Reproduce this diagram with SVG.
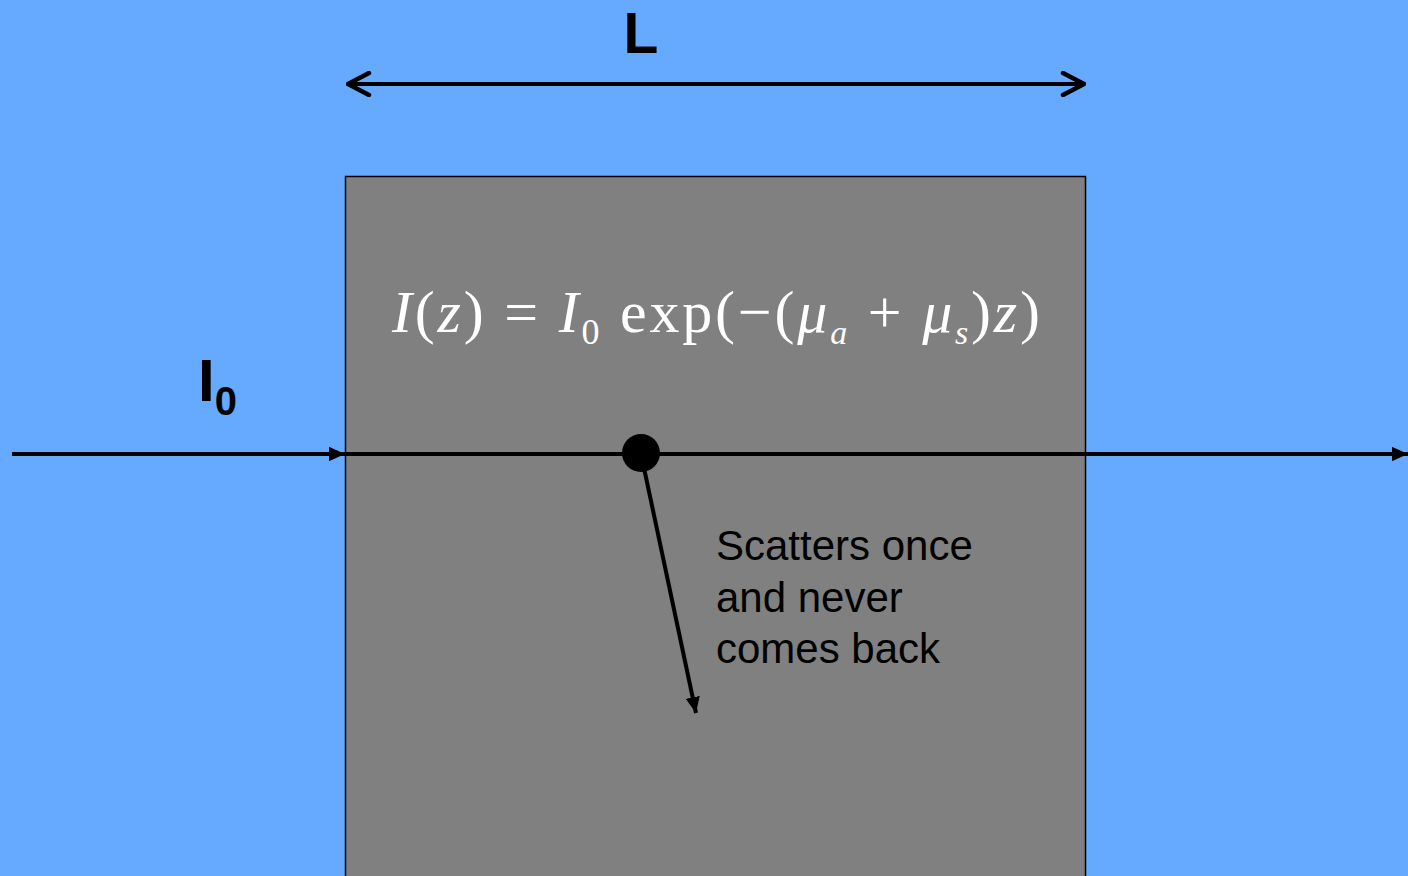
<svg xmlns="http://www.w3.org/2000/svg" width="1408" height="876" viewBox="0 0 1408 876">
<style>
.lbl{font-family:"Liberation Sans",Arial,sans-serif;fill:#000}
.eq{font-family:"Liberation Serif","Times New Roman",serif;fill:#fff;font-size:60px}
.ln{stroke:#000;stroke-width:4;fill:none}
</style>
<defs>
<marker id="tri" viewBox="0 0 10 10" refX="10" refY="5" markerWidth="4" markerHeight="3.6" orient="auto" markerUnits="strokeWidth" preserveAspectRatio="none"><path d="M0,0 L10,5 L0,10 z" fill="#000"/></marker>
<marker id="open" viewBox="0 0 26 26" refX="24" refY="13" markerWidth="26" markerHeight="26" orient="auto-start-reverse" markerUnits="userSpaceOnUse"><path d="M3,2 L24,13 L3,24" fill="none" stroke="#000" stroke-width="4.5" stroke-linecap="round" stroke-linejoin="round"/></marker>
</defs>
<rect width="1408" height="876" fill="#66aaff"/>
<g id="slab">
<rect x="345.5" y="176.5" width="740" height="710" fill="#808080" stroke="#000" stroke-width="1.5"/>
<text class="eq" x="392" y="332" textLength="648" lengthAdjust="spacing"><tspan font-style="italic">I</tspan>(<tspan font-style="italic">z</tspan>) = <tspan font-style="italic">I</tspan><tspan font-size="36" dy="12">0</tspan><tspan dy="-12"> exp(−(</tspan><tspan font-style="italic">μ</tspan><tspan font-style="italic" font-size="34" dy="12">a</tspan><tspan dy="-12"> + </tspan><tspan font-style="italic">μ</tspan><tspan font-style="italic" font-size="34" dy="12">s</tspan><tspan dy="-12">)</tspan><tspan font-style="italic">z</tspan>)</text>
</g>
<g id="length-label">
<text class="lbl" x="641" y="53" font-size="57" font-weight="bold" text-anchor="middle">L</text>
</g>
<g id="incident-label">
<text class="lbl" x="198" y="401" font-size="60" font-weight="bold">I<tspan font-size="40" dy="14">0</tspan></text>
</g>
<g id="scatter-label">
<text class="lbl" font-size="42"><tspan x="716" y="560">Scatters once</tspan><tspan x="716" y="612">and never</tspan><tspan x="716" y="663">comes back</tspan></text>
</g>
<g id="connectors">
<line class="ln" x1="348" y1="84" x2="1084" y2="84" marker-start="url(#open)" marker-end="url(#open)"/>
<line class="ln" x1="12" y1="454" x2="345" y2="454" marker-end="url(#tri)"/>
<line class="ln" x1="345" y1="454" x2="1408" y2="454" marker-end="url(#tri)"/>
<line class="ln" x1="644" y1="468" x2="696" y2="713" marker-end="url(#tri)"/>
</g>
<g id="scatter-point">
<circle cx="641" cy="453" r="19" fill="#000"/>
</g>
</svg>
